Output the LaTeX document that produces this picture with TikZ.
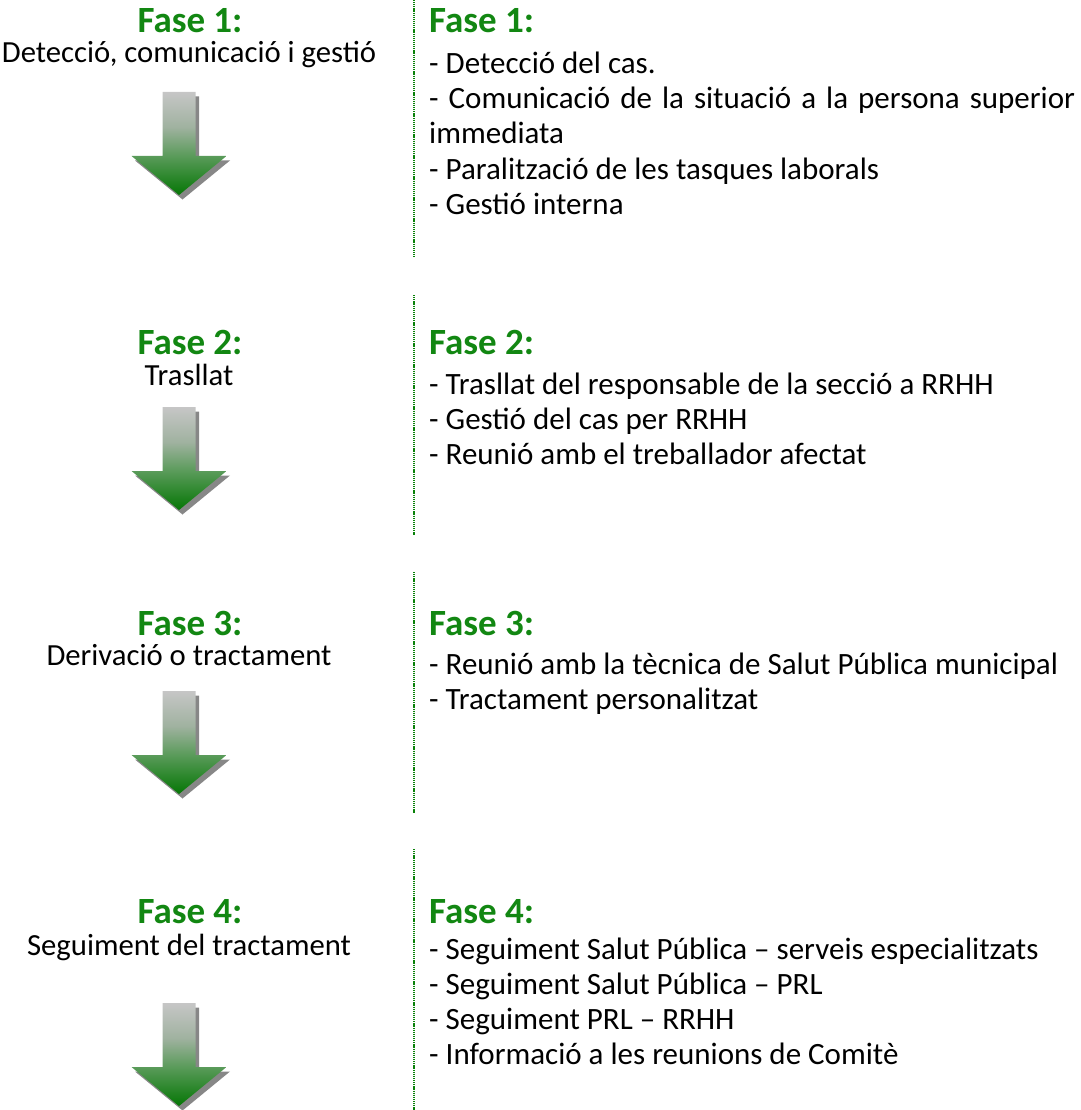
\documentclass[tikz,border=0pt]{standalone}
\usepackage{fontspec}
\setmainfont{Carlito}
\definecolor{fgreen}{RGB}{18,135,18}
\definecolor{lgreen}{RGB}{10,130,10}
\definecolor{agray}{RGB}{198,198,198}
\definecolor{amid}{RGB}{160,178,160}
\definecolor{ahead}{RGB}{90,155,90}
\definecolor{atip}{RGB}{5,118,5}
\definecolor{ashadow}{RGB}{135,135,135}
\pgfdeclareverticalshading{arrowshade}{100bp}{color(0bp)=(atip);color(25bp)=(atip);color(44bp)=(ahead);color(58bp)=(amid);color(75bp)=(agray);color(100bp)=(agray)}
\tikzset{
  headtxt/.style={font=\fontsize{37}{44}\selectfont\bfseries, text=fgreen, inner sep=0pt},
  lhead/.style={headtxt, anchor=base},
  rhead/.style={headtxt, anchor=base west},
  subtxt/.style={font=\fontsize{30.7}{37}\selectfont, inner sep=0pt, anchor=base},
  bodytxt/.style={font=\fontsize{31}{37}\selectfont, inner sep=0pt, anchor=base west},
  vline/.style={draw=lgreen, line width=1.8pt, dash pattern=on 1.2pt off 0.9pt},
  downarrow/.pic={
    \fill[ashadow] (-13,4.5) -- (20,4.5) -- (20,68.5) -- (51,68.5) -- (3.5,107.5) -- (-44,68.5) -- (-13,68.5) -- cycle;
    \shade[shading=arrowshade] (-16.5,0) -- (16.5,0) -- (16.5,64) -- (47.5,64) -- (0,103) -- (-47.5,64) -- (-16.5,64) -- cycle;
  }
}
\begin{document}
\begin{tikzpicture}[x=1pt,y=-1pt]
\useasboundingbox (0,0) rectangle (1080,1110);
% left column
\node[lhead] (l1h) at (190,33) {Fase 1:};
\node[subtxt] (l1s) at (189,63) {Detecció, comunicació i gestió};
\pic (a1) at (179,92) {downarrow};
\node[lhead] (l2h) at (190,354) {Fase 2:};
\node[subtxt] (l2s) at (189,385) {Trasllat};
\pic (a2) at (179,407) {downarrow};
\node[lhead] (l3h) at (190,635) {Fase 3:};
\node[subtxt] (l3s) at (189,665) {Derivació o tractament};
\pic (a3) at (179,691) {downarrow};
\node[lhead] (l4h) at (190,923) {Fase 4:};
\node[subtxt] (l4s) at (189,955) {Seguiment del tractament};
\pic (a4) at (179,1003) {downarrow};
% separators
\coordinate (s1a) at (414,0);   \coordinate (s1b) at (414,258);
\coordinate (s2a) at (414,295); \coordinate (s2b) at (414,535);
\coordinate (s3a) at (414,572); \coordinate (s3b) at (414,813);
\coordinate (s4a) at (414,849); \coordinate (s4b) at (414,1110);
\draw[vline] (s1a) -- (s1b);
\draw[vline] (s2a) -- (s2b);
\draw[vline] (s3a) -- (s3b);
\draw[vline] (s4a) -- (s4b);
% right column
\node[rhead] (r1h) at (429,33) {Fase 1:};
\node[bodytxt] (r1a) at (429,74) {- Detecció del cas.};
\node[bodytxt] (r1b) at (429,109) {\makebox[646pt][s]{- Comunicació de la situació a la persona superior}};
\node[bodytxt] (r1c) at (429,144) {immediata};
\node[bodytxt] (r1d) at (429,179) {- Paralització de les tasques laborals};
\node[bodytxt] (r1e) at (429,214) {- Gestió interna};
\node[rhead] (r2h) at (429,354) {Fase 2:};
\node[bodytxt] (r2a) at (429,394) {- Trasllat del responsable de la secció a RRHH};
\node[bodytxt] (r2b) at (429,429) {- Gestió del cas per RRHH};
\node[bodytxt] (r2c) at (429,464) {- Reunió amb el treballador afectat};
\node[rhead] (r3h) at (429,635) {Fase 3:};
\node[bodytxt] (r3a) at (429,674) {- Reunió amb la tècnica de Salut Pública municipal};
\node[bodytxt] (r3b) at (429,709) {- Tractament personalitzat};
\node[rhead] (r4h) at (429,923) {Fase 4:};
\node[bodytxt] (r4a) at (429,959) {- Seguiment Salut Pública – serveis especialitzats};
\node[bodytxt] (r4b) at (429,994) {- Seguiment Salut Pública – PRL};
\node[bodytxt] (r4c) at (429,1029) {- Seguiment PRL – RRHH};
\node[bodytxt] (r4d) at (429,1064) {- Informació a les reunions de Comitè};
\end{tikzpicture}
\end{document}
